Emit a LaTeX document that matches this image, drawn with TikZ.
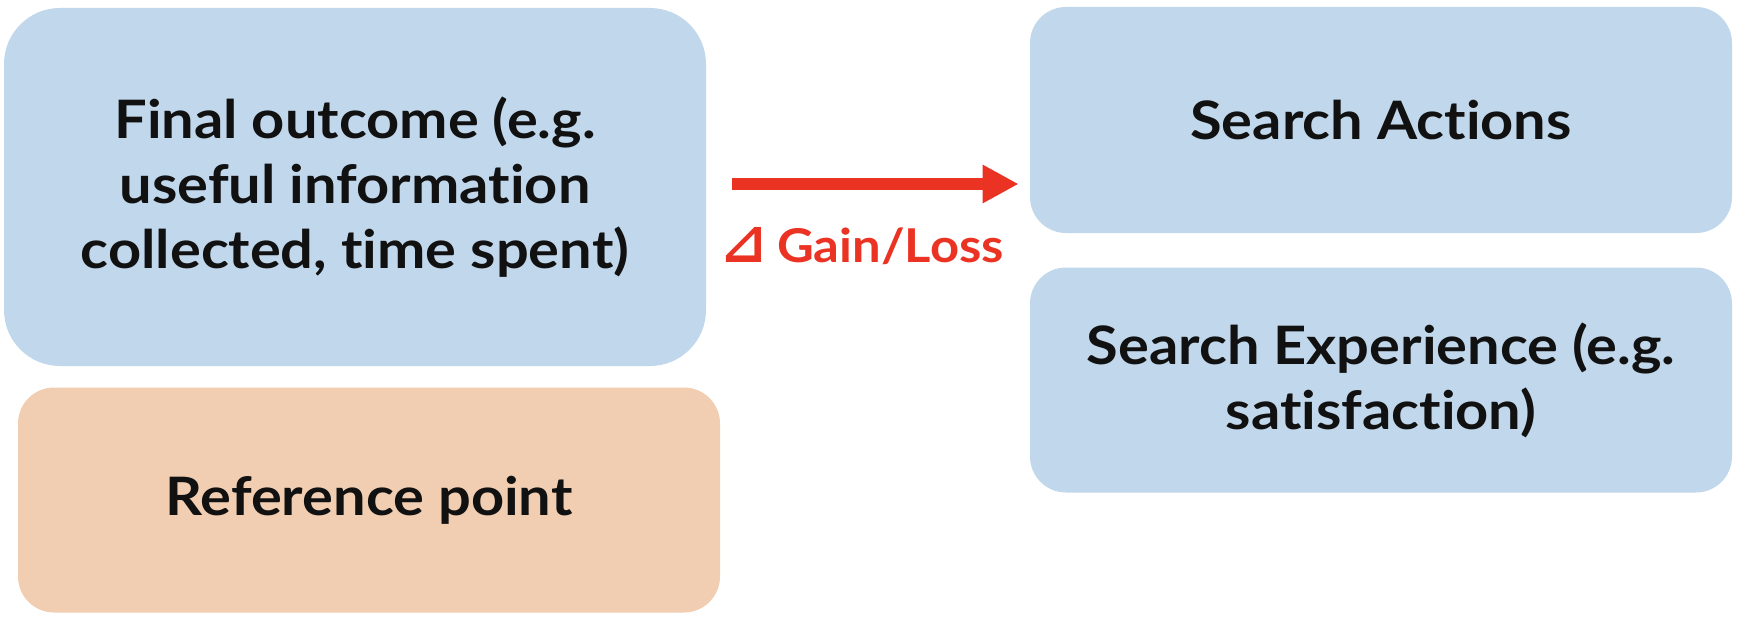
\documentclass[tikz,border=0pt]{standalone}
\usepackage{fontspec}
\setmainfont{Lato}[Ligatures={NoCommon,NoRequired,NoContextual}, FakeStretch=1.09]
\newfontfamily\symfont{DejaVu Sans}
\usetikzlibrary{arrows.meta}
\definecolor{boxblue}{HTML}{C1D7EC}
\definecolor{boxorange}{HTML}{F1CDB1}
\definecolor{arrred}{HTML}{EB3323}
\definecolor{txtblack}{HTML}{111111}
\begin{document}
\begin{tikzpicture}[x=0.5pt,y=-0.5pt,
  box/.style={inner sep=0pt, align=center, text=txtblack,
    minimum width=351pt, font=\fontsize{26.5}{32.5}\selectfont\bfseries},
  bluebox/.style={box, fill=boxblue},
  orangebox/.style={box, fill=boxorange},
  arr/.style={draw=arrred, line width=6pt, -{Triangle[length=18pt,width=18pt]}},
  lbl/.style={text=arrred, inner sep=0pt, font=\fontsize{23.3}{28}\selectfont\bfseries}]
\useasboundingbox (0,0) rectangle (1752,626);
\node[bluebox, rounded corners=28pt, minimum height=179pt] (b1) at (355,187)
  {Final outcome (e.g.\\useful information\\collected, time spent)};
\node[orangebox, rounded corners=18pt, minimum height=112.5pt] (b2) at (369,500)
  {Reference point};
\node[bluebox, rounded corners=18pt, minimum height=113pt] (b3) at (1381,120)
  {Search Actions};
\node[bluebox, rounded corners=18pt, minimum height=112.5pt] (b4) at (1381,380)
  {Search Experience (e.g.\\satisfaction)};
\coordinate (as) at ([shift={(26,-3)}]b1.east);
\coordinate (ae) at ([xshift=-5.5pt]as -| b3.west);
\draw[arr] (as) -- (ae);
\node[lbl] (gl) at (862,246) {{\symfont\bfseries\fontsize{28}{28}\selectfont ⊿}\hspace{5pt}Gain/Loss};
\end{tikzpicture}
\end{document}
